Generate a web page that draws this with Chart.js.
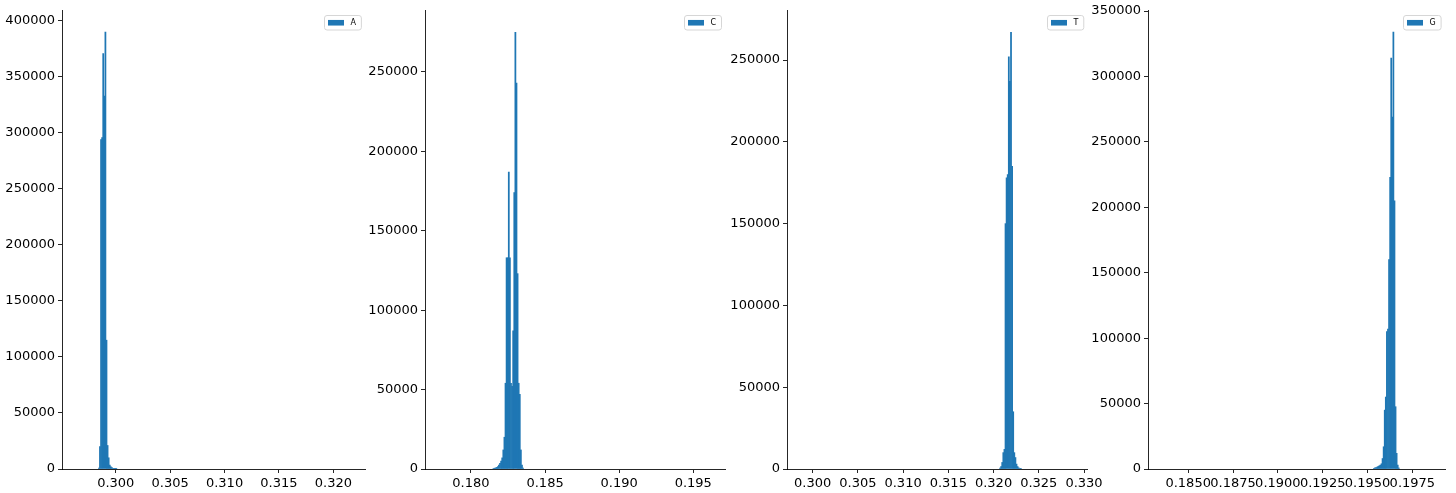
<!DOCTYPE html>
<html><head><meta charset="utf-8">
<script src="https://cdn.jsdelivr.net/npm/chart.js@4.4.0/dist/chart.umd.min.js"></script>
<style>
html,body{margin:0;padding:0;background:#fff;width:1456px;height:493px;overflow:hidden;}
canvas{position:absolute;top:0;}
</style></head><body>
<canvas id="c0"></canvas><canvas id="c1"></canvas><canvas id="c2"></canvas><canvas id="c3"></canvas>
<script>
// ---- data ----
const seriesLabels = ['A', 'C', 'T', 'G'];

const aBins = [0.29845, 0.29855, 0.29865, 0.29875, 0.29885, 0.29895, 0.29905, 0.29915, 0.29925, 0.29935, 0.29945, 0.29955, 0.29965, 0.29975, 0.29985, 0.29995, 0.30005];
const aCounts = [800, 20000, 294000, 296000, 371000, 333000, 390000, 115000, 21000, 10000, 3500, 2000, 1200, 700, 400, 200, 100];

const cBins = [0.181518, 0.181592, 0.181666, 0.181740, 0.181814, 0.181888, 0.181962, 0.182036, 0.182110, 0.182184, 0.182258, 0.182332, 0.182406, 0.182480, 0.182554, 0.182628, 0.182702, 0.182776, 0.182850, 0.182924, 0.182998, 0.183072, 0.183146, 0.183220, 0.183294, 0.183368, 0.183442, 0.183516];
const cCounts = [300, 500, 700, 1000, 1500, 2500, 3500, 5000, 7000, 12000, 20000, 54000, 133000, 133000, 187000, 133000, 54000, 52000, 87000, 174000, 275000, 243000, 123000, 54000, 47000, 12000, 2500, 600];

const tBins = [0.320717, 0.320838, 0.320960, 0.321081, 0.321203, 0.321324, 0.321445, 0.321567, 0.321688, 0.321810, 0.321931, 0.322053, 0.322174, 0.322295, 0.322417, 0.322538, 0.322660, 0.322781, 0.322903, 0.323024];
const tCounts = [500, 1500, 4000, 10000, 12000, 150000, 178000, 180000, 252000, 237000, 267000, 185000, 35000, 10000, 7000, 3000, 1500, 700, 300, 150];

const gBins = [0.195357, 0.195417, 0.195478, 0.195538, 0.195598, 0.195659, 0.195719, 0.195779, 0.195839, 0.195900, 0.195960, 0.196020, 0.196081, 0.196141, 0.196201, 0.196262, 0.196322, 0.196382, 0.196442, 0.196503, 0.196563, 0.196623, 0.196684, 0.196744];
const gCounts = [500, 800, 1000, 1500, 2000, 2500, 3000, 4000, 8000, 17000, 45000, 55000, 105000, 107000, 160000, 223000, 314000, 269000, 334000, 205000, 47600, 12000, 3000, 800];

const aXTicks = [0.300, 0.305, 0.310, 0.315, 0.320];
const cXTicks = [0.180, 0.185, 0.190, 0.195];
const tXTicks = [0.300, 0.305, 0.310, 0.315, 0.320, 0.325, 0.330];
const gXTicks = [0.1850, 0.1875, 0.1900, 0.1925, 0.1950, 0.1975];

const aYTicks = [0, 50000, 100000, 150000, 200000, 250000, 300000, 350000, 400000];
const cYTicks = [0, 50000, 100000, 150000, 200000, 250000];
const tYTicks = [0, 50000, 100000, 150000, 200000, 250000];
const gYTicks = [0, 50000, 100000, 150000, 200000, 250000, 300000, 350000];

// ---- layout / styling ----
const BAR_COLOR = '#1f77b4';
const AXIS_COLOR = 'rgba(0,0,0,0.85)';
const TICK_FONT = {family: 'DejaVu Sans', size: 13, style: 'normal', weight: 'normal', lineHeight: 1.2};
Chart.defaults.font.family = 'DejaVu Sans';
Chart.defaults.font.size = 13;
Chart.defaults.color = '#000';

const panels = [
  {id: 'c0', left: 0,    width: 390, yw: 62, padR: 25, xMin: 0.29506, xMax: 0.32291, yMax: 409800, xt: aXTicks, yt: aYTicks, dec: 3, label: seriesLabels[0], bins: aBins, counts: aCounts},
  {id: 'c1', left: 360,  width: 390, yw: 65, padR: 25, xMin: 0.17690, xMax: 0.19714, yMax: 289000, xt: cXTicks, yt: cYTicks, dec: 3, label: seriesLabels[1], bins: cBins, counts: cCounts},
  {id: 'c2', left: 722,  width: 390, yw: 65, padR: 25, xMin: 0.29717, xMax: 0.33033, yMax: 280600, xt: tXTicks, yt: tYTicks, dec: 3, label: seriesLabels[2], bins: tBins, counts: tCounts},
  {id: 'c3', left: 1085, width: 371, yw: 63, padR: 11, xMin: 0.18276, xMax: 0.19932, yMax: 350800, xt: gXTicks, yt: gYTicks, dec: 4, label: seriesLabels[3], bins: gBins, counts: gCounts}
];

function rr(ctx, x, y, w, h, r) {
  ctx.beginPath();
  ctx.moveTo(x + r, y);
  ctx.lineTo(x + w - r, y); ctx.arcTo(x + w, y, x + w, y + r, r);
  ctx.lineTo(x + w, y + h - r); ctx.arcTo(x + w, y + h, x + w - r, y + h, r);
  ctx.lineTo(x + r, y + h); ctx.arcTo(x, y + h, x, y + h - r, r);
  ctx.lineTo(x, y + r); ctx.arcTo(x, y, x + r, y, r);
  ctx.closePath();
}

const insideLegend = {
  id: 'insideLegend',
  afterDraw(chart) {
    const ctx = chart.ctx, area = chart.chartArea;
    const ds = chart.data.datasets[0];
    ctx.save();
    ctx.font = '8px "DejaVu Sans"';
    const tw = ctx.measureText(ds.label).width;
    const w = 4 + 16 + 6.4 + tw + 5;
    const h = 14.5;
    const x = Math.round(area.right - 4 - w) + 0.5;
    const y = Math.round(area.top + 4.5) + 0.5;
    rr(ctx, x, y, w, h, 2.5);
    ctx.fillStyle = 'rgba(255,255,255,0.8)';
    ctx.fill();
    ctx.strokeStyle = '#d6d6d6';
    ctx.lineWidth = 1;
    ctx.stroke();
    ctx.fillStyle = ds.backgroundColor;
    ctx.fillRect(x + 3.5, y + h / 2 - 2.8, 16, 5.6);
    ctx.fillStyle = '#000';
    ctx.textBaseline = 'middle';
    ctx.textAlign = 'left';
    ctx.fillText(ds.label, x + 3.5 + 16 + 6.4, y + h / 2 + 0.5);
    ctx.restore();
  }
};

panels.forEach(p => {
  const cv = document.getElementById(p.id);
  cv.width = p.width; cv.height = 493;
  cv.style.left = p.left + 'px';
  cv.style.width = p.width + 'px'; cv.style.height = '493px';
  const pts = p.bins.map((b, i) => ({x: b, y: p.counts[i]}));
  new Chart(cv, {
    type: 'bar',
    data: {datasets: [{label: p.label, data: pts, backgroundColor: BAR_COLOR, borderWidth: 0, barPercentage: 1.0, categoryPercentage: 1.0}]},
    options: {
      responsive: false,
      animation: false,
      events: [],
      layout: {padding: {left: 0, right: p.padR, top: 10, bottom: 0}},
      plugins: {legend: {display: false}, tooltip: {enabled: false}},
      scales: {
        x: {
          type: 'linear', min: p.xMin, max: p.xMax, offset: false,
          grid: {display: true, drawOnChartArea: false, drawTicks: true, tickLength: 4, color: AXIS_COLOR, offset: false},
          border: {display: true, color: AXIS_COLOR, width: 1},
          ticks: {autoSkip: false, maxRotation: 0, minRotation: 0, padding: 3, color: '#000', font: TICK_FONT,
                  callback: v => Number(v).toFixed(p.dec)},
          afterBuildTicks: s => { s.ticks = p.xt.map(v => ({value: v})); },
          afterFit: s => { s.height = 24; s.paddingLeft = 0; s.paddingRight = 0; }
        },
        y: {
          type: 'linear', min: 0, max: p.yMax,
          grid: {display: true, drawOnChartArea: false, drawTicks: true, tickLength: 4, color: AXIS_COLOR},
          border: {display: true, color: AXIS_COLOR, width: 1},
          ticks: {autoSkip: false, padding: 3, color: '#000', font: TICK_FONT, callback: v => String(v)},
          afterBuildTicks: s => { s.ticks = p.yt.map(v => ({value: v})); },
          afterFit: s => { s.width = p.yw; s.paddingTop = 0; s.paddingBottom = 0; }
        }
      }
    },
    plugins: [insideLegend]
  });
});
</script>
</body></html>
